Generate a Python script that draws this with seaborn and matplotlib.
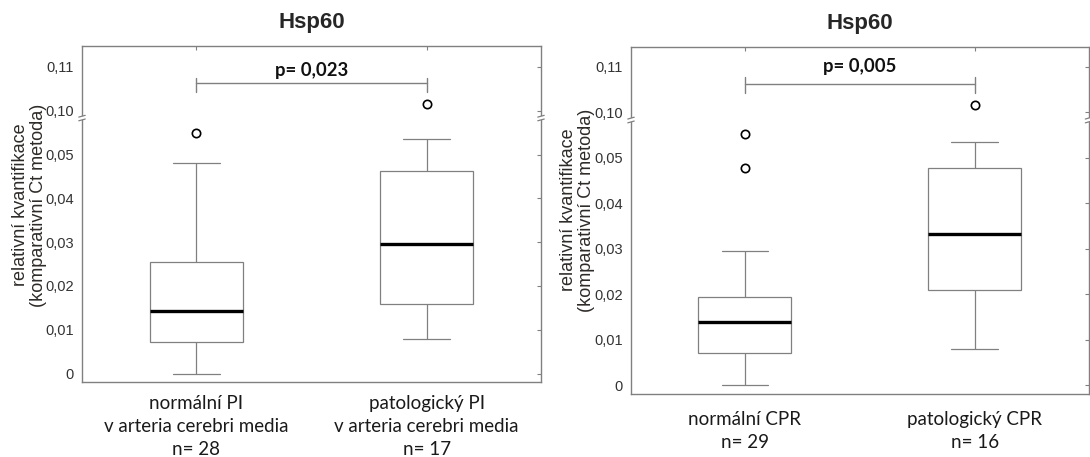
import numpy as np
import pandas as pd
import matplotlib
matplotlib.use("Agg")
import matplotlib.pyplot as plt
import matplotlib.transforms as mtransforms
from matplotlib.ticker import NullLocator
import seaborn as sns

# ---------------- data ----------------
title = "Hsp60"
ylabel = "relativní kvantifikace\n(komparativní Ct metoda)"

left_names = ["normální PI\nv arteria cerebri media", "patologický PI\nv arteria cerebri media"]
left_normal = [0.0000, 0.0022, 0.0035, 0.0046, 0.0055, 0.0063, 0.0071, 0.0071,
               0.0082, 0.0094, 0.0105, 0.0118, 0.0131, 0.0142, 0.0142, 0.0158,
               0.0176, 0.0192, 0.0213, 0.0234, 0.0255, 0.0255, 0.0288, 0.0320,
               0.0365, 0.0412, 0.0480, 0.0550]
left_patol = [0.0079, 0.0098, 0.0121, 0.0140, 0.0159, 0.0188, 0.0221, 0.0262,
              0.0295, 0.0330, 0.0372, 0.0418, 0.0462, 0.0489, 0.0510, 0.0535,
              0.1014]
left_p = "p= 0,023"

right_names = ["normální CPR", "patologický CPR"]
right_normal = [0.0000, 0.0021, 0.0034, 0.0043, 0.0051, 0.0058, 0.0066, 0.0072,
                0.0081, 0.0090, 0.0101, 0.0111, 0.0122, 0.0131, 0.0139, 0.0146,
                0.0155, 0.0163, 0.0172, 0.0180, 0.0188, 0.0194, 0.0205, 0.0221,
                0.0248, 0.0272, 0.0295, 0.0478, 0.0553]
right_patol = [0.0079, 0.0125, 0.0172, 0.0210, 0.0210, 0.0248, 0.0291, 0.0333,
               0.0333, 0.0380, 0.0431, 0.0478, 0.0478, 0.0505, 0.0535, 0.1015]
right_p = "p= 0,005"

ytick_values = [0, 0.01, 0.02, 0.03, 0.04, 0.05, 0.10, 0.11]
ytick_labels = ["0", "0,01", "0,02", "0,03", "0,04", "0,05", "0,10", "0,11"]

# ---------------- broken axis scale ----------------
BRK_A = 0.0583
BRK_B = BRK_A + 0.04
EPS = 1e-3
GAP = (BRK_B - BRK_A) * (1 - EPS)


def fwd(y):
    y = np.asarray(y, dtype=float)
    return np.where(y <= BRK_A, y,
                    np.where(y < BRK_B, BRK_A + (y - BRK_A) * EPS, y - GAP))


def inv(z):
    z = np.asarray(z, dtype=float)
    lim = BRK_A + (BRK_B - BRK_A) * EPS
    return np.where(z <= BRK_A, z,
                    np.where(z < lim, BRK_A + (z - BRK_A) / EPS, z + GAP))


# ---------------- figure ----------------
sns.set_style("white")
plt.rcParams["font.family"] = ["Liberation Sans", "DejaVu Sans"]

W, H = 1090, 457
fig = plt.figure(figsize=(W / 100, H / 100), dpi=100)


def rect(x0, x1, y0, y1):
    return [x0 / W, 1 - y1 / H, (x1 - x0) / W, (y1 - y0) / H]


GRAY = "#808080"


def panel(ax, names, groups, ptext, ylim, bracket_y, tick_lo, tick_hi, p_y,
          ylab_x, ylab_y, xpad):
    labels = [f"{n}\nn= {len(g)}" for n, g in zip(names, groups)]
    df = pd.DataFrame({
        "group": np.repeat(labels, [len(g) for g in groups]),
        "value": np.concatenate(groups),
    })
    sns.boxplot(data=df, x="group", y="value", order=labels, ax=ax,
                width=0.405, color="white", linecolor=GRAY, linewidth=0.9,
                whis=1.5, fliersize=6,
                medianprops=dict(color="black", linewidth=2.4),
                flierprops=dict(marker="o", markerfacecolor="none",
                                markeredgecolor="black", markeredgewidth=1.2))
    ax.set_yscale("function", functions=(fwd, inv))
    ax.set_ylim(*ylim)
    ax.set_xlim(-0.496, 1.496)
    ax.set_yticks(ytick_values)
    ax.set_yticklabels(ytick_labels)
    ax.yaxis.set_minor_locator(NullLocator())
    ax.set_xlabel("")
    ax.set_ylabel(ylabel, fontsize=13, color="#2e2a27", linespacing=1.05)
    ax.yaxis.set_label_coords(ylab_x, ylab_y)
    ax.set_title(title, fontsize=16, fontweight="bold", pad=13)
    for s in ax.spines.values():
        s.set_color(GRAY)
        s.set_linewidth(1.0)
        s.set_visible(True)
    ax.tick_params(axis="both", direction="in", length=3, width=0.8,
                   color=GRAY, top=True, right=True)
    ax.tick_params(axis="y", labelsize=10.5, labelcolor="#333333", pad=6)
    ax.tick_params(axis="x", pad=xpad)
    for t in ax.get_xticklabels():
        t.set_fontfamily(["Lato", "DejaVu Sans"])
        t.set_fontsize(13.5)
        t.set_color("#1a1a1a")
        t.set_linespacing(1.45)

    # significance bracket
    ax.plot([0, 1], [bracket_y, bracket_y], color=GRAY, lw=1.0, clip_on=False)
    for xx in (0, 1):
        ax.plot([xx, xx], [tick_lo, tick_hi], color=GRAY, lw=1.0, clip_on=False)
    ax.text(0.5, p_y, ptext, ha="center", va="center", fontsize=13.3,
            fontweight="bold", family=["Lato", "DejaVu Sans"], color="#111111")

    # axis break marks on both vertical spines
    tr = mtransforms.blended_transform_factory(ax.transAxes, ax.transData)
    y1, y2 = BRK_A - 0.0004, BRK_B + 0.0004
    for xa in (0.0, 1.0):
        ax.plot([xa, xa], [y1, y2], transform=tr, color="white", lw=3,
                clip_on=False, zorder=10, solid_capstyle="butt")
        for yy in (y1, y2):
            ax.plot([xa - 0.007, xa + 0.007], [yy - 0.0002, yy + 0.0002],
                    transform=tr, color=GRAY, lw=0.9, clip_on=False, zorder=11)


ax1 = fig.add_axes(rect(82, 541, 45.7, 382.3))
ax2 = fig.add_axes(rect(631, 1088.5, 46.7, 394))

panel(ax1, left_names, [left_normal, left_patol], left_p,
      ylim=(-0.002, 0.1148), bracket_y=0.1062, tick_lo=0.1043, tick_hi=0.1074,
      p_y=0.1092, ylab_x=-0.076, ylab_y=0.527, xpad=9)
panel(ax2, right_names, [right_normal, right_patol], right_p,
      ylim=(-0.0019, 0.1144), bracket_y=0.1063, tick_lo=0.1042, tick_hi=0.1078,
      p_y=0.1100, ylab_x=-0.079, ylab_y=0.53, xpad=12)

fig.savefig("out.png", dpi=100)
